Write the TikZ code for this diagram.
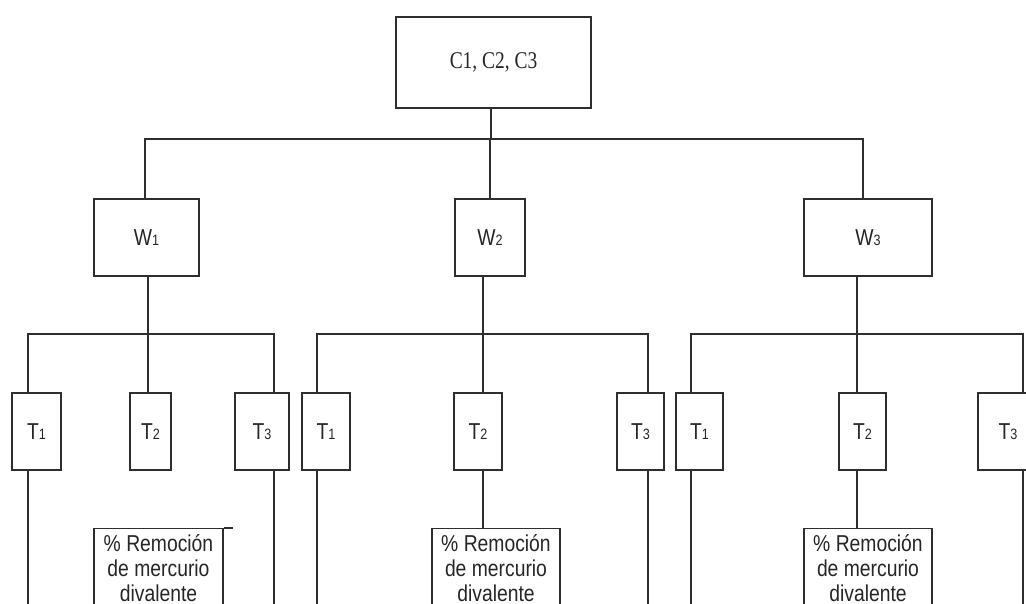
\documentclass[tikz,border=0pt]{standalone}
\usepackage{fontspec}
\setmainfont{Liberation Serif}[FakeStretch=0.81]
\newfontfamily\labelfont{Liberation Sans}[FakeStretch=0.84]
\newcommand\subdig[1]{{\fontsize{15}{15}\selectfont #1}}
\tikzset{
  box/.style={draw=black!82, line width=1.4pt, rectangle, inner sep=0pt,
              font=\labelfont\fontsize{23}{25}\selectfont, text=black!85},
  wire/.style={draw=black!82, line width=1.4pt},
  tbox/.style={box, minimum height=77pt},
  rbox/.style={box, anchor=north, minimum width=128pt, inner ysep=5.2pt}
}
\begin{document}
\begin{tikzpicture}[x=1pt,y=-1pt]
\useasboundingbox (0,0) rectangle (1026,604);
\fill[white] (0,0) rectangle (1026,604);
\clip (0,0) rectangle (1026,604);

% top
\node[box, minimum width=195pt, minimum height=91pt,
      font=\rmfamily\fontsize{24}{26}\selectfont] (C) at (493.5,62.5) {C1, C2, C3};

% W boxes
\node[box, minimum width=105pt, minimum height=77pt] (W1) at (146.5,237.5) {W\subdig{1}};
\node[box, minimum width=70pt,  minimum height=77pt] (W2) at (490,237.5) {W\subdig{2}};
\node[box, minimum width=128pt, minimum height=77pt] (W3) at (868,237.5) {W\subdig{3}};

% T boxes
\node[tbox, minimum width=49pt] (T11) at (36.5,431.5) {T\subdig{1}};
\node[tbox, minimum width=41pt] (T12) at (150.5,431.5) {T\subdig{2}};
\node[tbox, minimum width=54pt] (T13) at (262,431.5) {T\subdig{3}};
\node[tbox, minimum width=48pt] (T21) at (326,431.5) {T\subdig{1}};
\node[tbox, minimum width=48pt] (T22) at (478,431.5) {T\subdig{2}};
\node[tbox, minimum width=47pt] (T23) at (640.5,431.5) {T\subdig{3}};
\node[tbox, minimum width=47pt] (T31) at (699.5,431.5) {T\subdig{1}};
\node[tbox, minimum width=47pt] (T32) at (862.5,431.5) {T\subdig{2}};
\node[tbox, minimum width=60pt] (T33) at (1008,431.5) {T\subdig{3}};

% result boxes
\node[rbox, minimum width=129pt] (R1) at (158.5,528)
  {\begin{tabular}[t]{@{}c@{}}\% Remoción\\de mercurio\\divalente\end{tabular}};
\node[rbox] (R2) at (496,528)
  {\begin{tabular}[t]{@{}c@{}}\% Remoción\\de mercurio\\divalente\end{tabular}};
\node[rbox] (R3) at (868,528)
  {\begin{tabular}[t]{@{}c@{}}\% Remoción\\de mercurio\\divalente\end{tabular}};
\coordinate (r1x) at (233,528);
\draw[wire] (R1.north east) -- (r1x);

% top bus
\coordinate (cb) at (491,139);
\coordinate (w1t) at (145,139);
\coordinate (w2t) at (490,139);
\coordinate (w3t) at (863,139);
\draw[wire] (C.south -| cb) -- (cb);
\draw[wire] (W1.north -| w1t) -- (w1t) -- (w3t) -- (W3.north -| w3t);
\draw[wire] (W2.north -| w2t) -- (w2t);

% group buses
\coordinate (g1a) at (28,334);  \coordinate (g1b) at (148,334); \coordinate (g1c) at (274,334);
\coordinate (g2a) at (317,334); \coordinate (g2b) at (483,334); \coordinate (g2c) at (648,334);
\coordinate (g3a) at (691,334); \coordinate (g3b) at (857,334); \coordinate (g3c) at (1023,334);

\draw[wire] (T11.north -| g1a) -- (g1a) -- (g1c) -- (T13.north -| g1c);
\draw[wire] (W1.south -| g1b) -- (T12.north -| g1b);
\draw[wire] (T21.north -| g2a) -- (g2a) -- (g2c) -- (T23.north -| g2c);
\draw[wire] (W2.south -| g2b) -- (T22.north -| g2b);
\draw[wire] (T31.north -| g3a) -- (g3a) -- (g3c) -- (T33.north -| g3c);
\draw[wire] (W3.south -| g3b) -- (T32.north -| g3b);

% T2 to results
\draw[wire] (T22.south -| g2b) -- (R2.north -| g2b);
\draw[wire] (T32.south -| g3b) -- (R3.north -| g3b);

% long lines down
\coordinate (e11) at (28,610);  \coordinate (e13) at (274,610);
\coordinate (e21) at (317,610); \coordinate (e23) at (648,610);
\coordinate (e31) at (691,610); \coordinate (e33) at (1023,610);
\draw[wire] (T11.south -| e11) -- (e11);
\draw[wire] (T13.south -| e13) -- (e13);
\draw[wire] (T21.south -| e21) -- (e21);
\draw[wire] (T23.south -| e23) -- (e23);
\draw[wire] (T31.south -| e31) -- (e31);
\draw[wire] (T33.south -| e33) -- (e33);
\end{tikzpicture}
\end{document}
